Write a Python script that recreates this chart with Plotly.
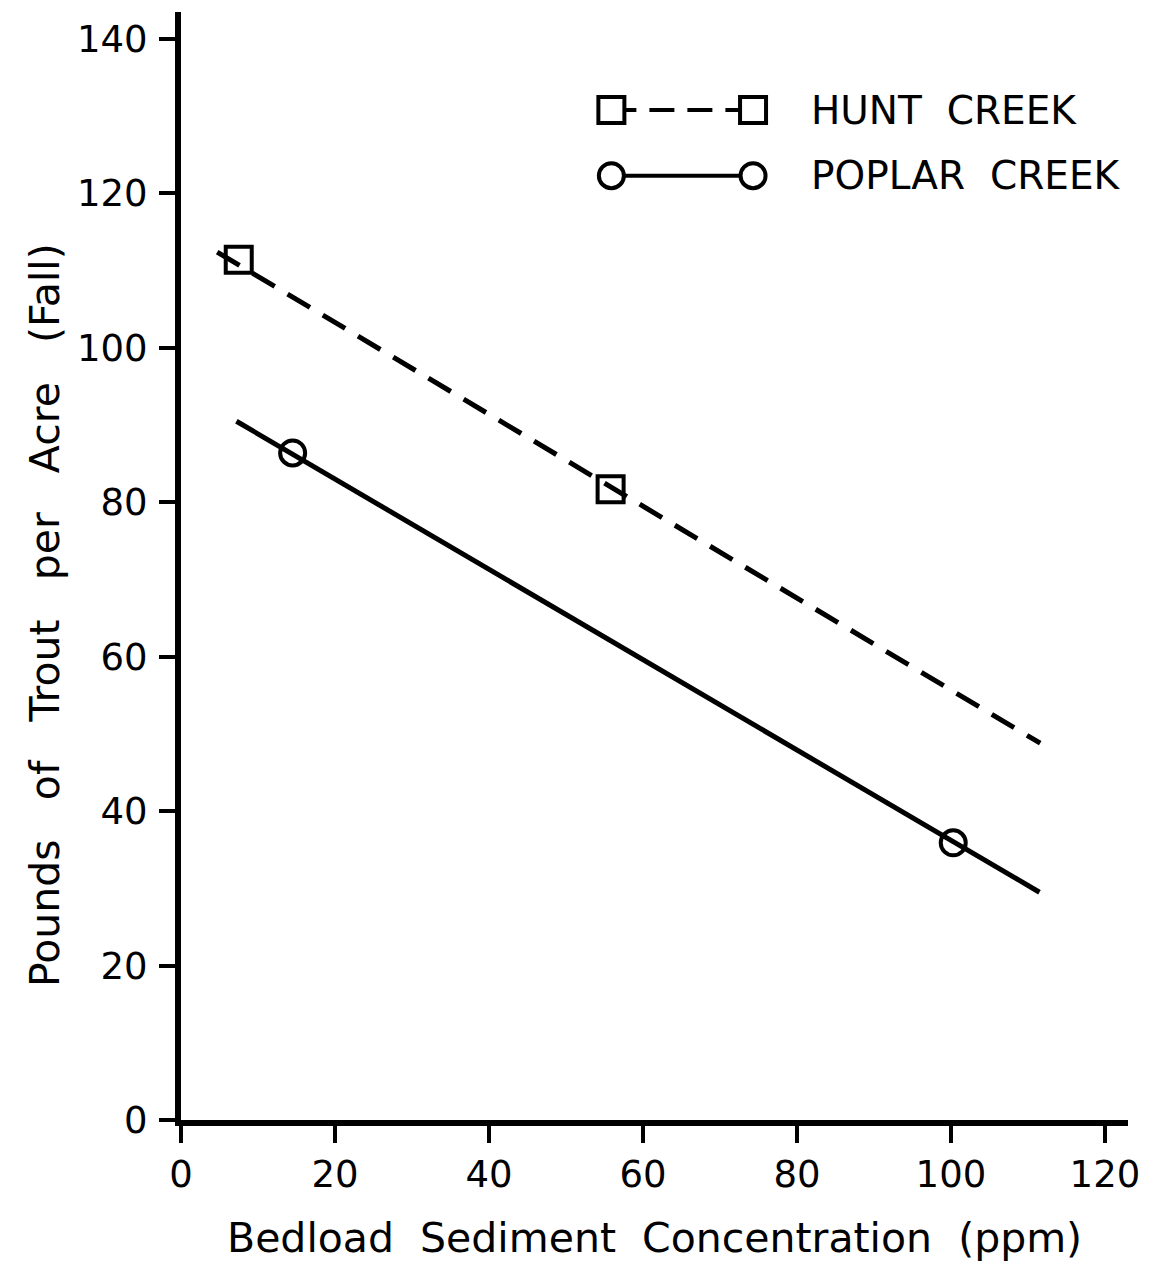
import plotly.graph_objects as go

# ---- data ----
hunt_x = [7.5, 55.8]
hunt_y = [111.4, 81.7]
poplar_x = [14.5, 100.3]
poplar_y = [86.4, 35.9]

hunt_fit_x = [4.7, 111.6]
hunt_fit_y = [112.4, 48.8]
poplar_fit_x = [7.2, 111.5]
poplar_fit_y = [90.5, 29.5]

x_ticks = [0, 20, 40, 60, 80, 100, 120]
y_ticks = [0, 20, 40, 60, 80, 100, 120, 140]

legend_names = ["HUNT  CREEK", "POPLAR  CREEK"]
legend_key_x = [55.9, 74.3]
legend_key_y = [130.8, 122.3]
legend_text_x = 81.6

FONT = "DejaVu Sans"
BLACK = "#000000"

fig = go.Figure()

# fitted lines
fig.add_trace(go.Scatter(x=hunt_fit_x, y=hunt_fit_y, mode="lines",
                         line=dict(color=BLACK, width=5, dash="26px,15px"),
                         showlegend=False, hoverinfo="skip"))
fig.add_trace(go.Scatter(x=poplar_fit_x, y=poplar_fit_y, mode="lines",
                         line=dict(color=BLACK, width=5),
                         showlegend=False, hoverinfo="skip"))
# observed points
fig.add_trace(go.Scatter(x=hunt_x, y=hunt_y, mode="markers",
                         marker=dict(symbol="square-open", size=26, color=BLACK,
                                     line=dict(width=4, color=BLACK)),
                         showlegend=False))
fig.add_trace(go.Scatter(x=poplar_x, y=poplar_y, mode="markers",
                         marker=dict(symbol="circle-open", size=25, color=BLACK,
                                     line=dict(width=4, color=BLACK)),
                         showlegend=False))

# custom legend keys
fig.add_trace(go.Scatter(x=legend_key_x, y=[legend_key_y[0]] * 2, mode="lines+markers",
                         line=dict(color=BLACK, width=4, dash="25px,13px"),
                         marker=dict(symbol="square", size=26, color="white",
                                     line=dict(width=4, color=BLACK)),
                         showlegend=False, hoverinfo="skip", cliponaxis=False))
fig.add_trace(go.Scatter(x=legend_key_x, y=[legend_key_y[1]] * 2, mode="lines+markers",
                         line=dict(color=BLACK, width=4),
                         marker=dict(symbol="circle", size=25, color="white",
                                     line=dict(width=4, color=BLACK)),
                         showlegend=False, hoverinfo="skip", cliponaxis=False))

annotations = []
for name, yy in zip(legend_names, legend_key_y):
    annotations.append(dict(x=legend_text_x, y=yy, xref="x", yref="y", text=name,
                            showarrow=False, xanchor="left", yanchor="middle",
                            font=dict(family=FONT, size=39, color=BLACK)))
annotations.append(dict(x=0.5, y=-0.1065, xref="paper", yref="paper",
                        text="Bedload  Sediment  Concentration  (ppm)",
                        showarrow=False, xanchor="center", yanchor="middle",
                        font=dict(family=FONT, size=41, color=BLACK)))
annotations.append(dict(x=-0.1436, y=0.4558, xref="paper", yref="paper",
                        text="Pounds   of   Trout   per   Acre   (Fall)", textangle=-90,
                        showarrow=False, xanchor="center", yanchor="middle",
                        font=dict(family=FONT, size=41, color=BLACK)))

# page body has an 8px margin: shrink figure and margins to compensate
fig.update_layout(
    width=1141, height=1254,
    margin=dict(l=173, r=21, t=4, b=142),
    paper_bgcolor="white", plot_bgcolor="white",
    showlegend=False,
    annotations=annotations,
    xaxis=dict(range=[0, 123], tickvals=x_ticks, ticktext=[str(v) for v in x_ticks],
               showgrid=False, zeroline=False, showline=True, linecolor=BLACK, linewidth=6,
               ticks="outside", ticklen=17, tickwidth=4, tickcolor=BLACK,
               ticklabelstandoff=0,
               tickfont=dict(family=FONT, size=37, color=BLACK)),
    yaxis=dict(range=[0, 143.5], tickvals=y_ticks, ticktext=[str(v) for v in y_ticks],
               showgrid=False, zeroline=False, showline=True, linecolor=BLACK, linewidth=6,
               ticks="outside", ticklen=16, tickwidth=4, tickcolor=BLACK,
               ticklabelstandoff=4,
               tickfont=dict(family=FONT, size=37, color=BLACK)),
)

fig.write_html("out.html")
